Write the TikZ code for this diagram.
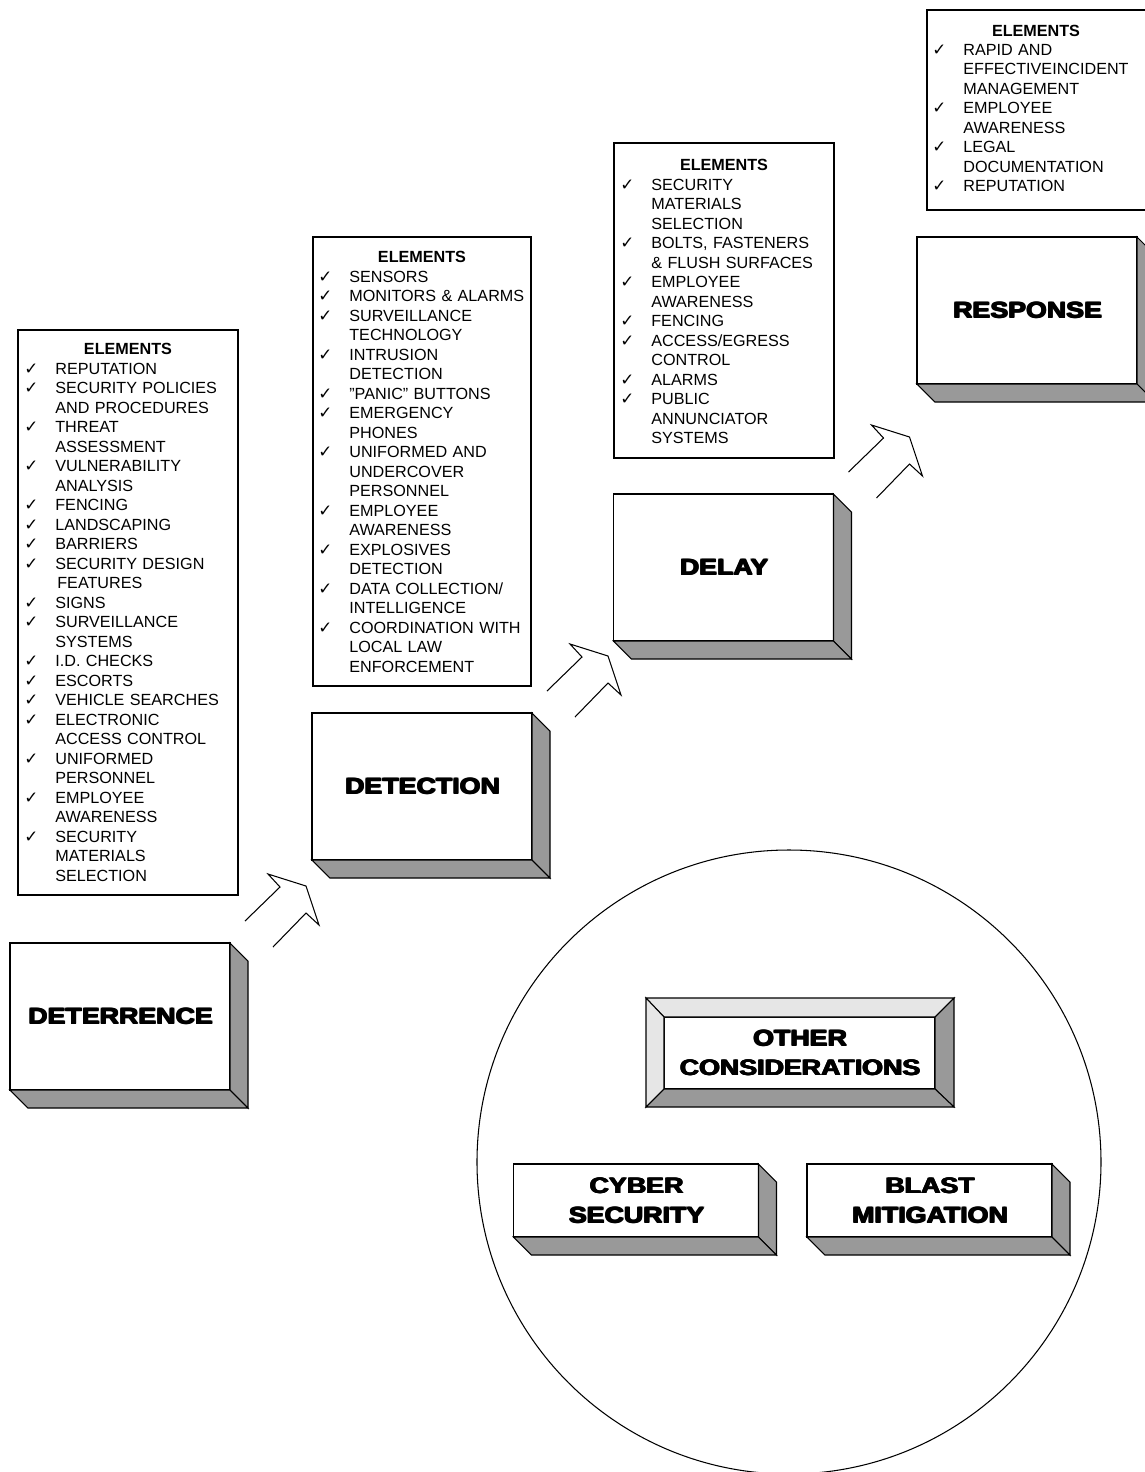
\documentclass[tikz,border=0pt]{standalone}
\usepackage{fontspec}
\setmainfont{Liberation Sans}
\newfontfamily\heavyfont{Liberation Sans Bold}[FakeStretch=1.2]
\newfontfamily\checkfont{DejaVu Sans}
\usetikzlibrary{positioning}

\definecolor{slabgray}{HTML}{999999}
\definecolor{bevelgray}{HTML}{E6E6E6}

% one pixel of the page
\newdimen\px \px=0.02cm

\newcommand{\chk}{\leavevmode\llap{\checkfont\fontsize{9.5}{10}\selectfont ✓\hspace{17\px}}}
% thicker letters for the block titles
\newcommand{\heavy}[1]{\rlap{\hspace{0.7pt}#1}\rlap{\raisebox{0.5pt}{#1}}\rlap{\hspace{0.7pt}\raisebox{0.5pt}{#1}}#1}

% side and bottom faces of a block
\newcommand{\slab}[1]{%
  \draw[slab] (#1.north east) -- ++(18,18) -- ([shift={(18,18)}]#1.south east) -- (#1.south east) -- cycle;
  \draw[slab] (#1.south west) -- ++(18,18) -- ([shift={(18,18)}]#1.south east) -- (#1.south east) -- cycle;}

\tikzset{
  face/.style={draw, fill=white, line width=0.6pt, inner sep=0pt, outer sep=0pt,
    align=center, font=\heavyfont\fontsize{12.7}{16.8}\selectfont},
  stage/.style={face, minimum width=220\px, minimum height=147\px},
  flat/.style={face, minimum width=245\px, minimum height=73\px},
  slab/.style={fill=slabgray, draw, line width=0.6pt},
  frame/.style={draw, line width=0.6pt},
  head/.style={anchor=base, inner sep=0pt, font=\bfseries\fontsize{9.2}{11.1}\selectfont},
  items/.style={anchor=base west, inner sep=0pt, text width=200\px, align=left,
    font=\fontsize{9.2}{11.1}\selectfont},
  chev/.pic={\draw[line width=0.6pt] (0,0) -- (35,-34) -- (23,-47) -- (61,-35) -- (74,4) -- (61,-8) -- (28,26);}
}

\begin{document}
\begin{tikzpicture}[x=1\px,y=-1\px]
\useasboundingbox (0,0) rectangle (1145,1472);
\clip (0,0) rectangle (1145,1472);

% the four stages
\node[stage] (deter) at (120,1016.5) {\heavy{DETERRENCE}};
\node[stage] (detect) at (422,786.5) {\heavy{DETECTION}};
\node[stage] (delay) at (723.5,567.5) {\heavy{DELAY}};
\node[stage] (resp) at (1027,310.5) {\heavy{RESPONSE}};
\slab{deter}
\slab{detect}
\slab{delay}
\slab{resp}

\pic at ([shift={(15,-22)}]deter.north east) {chev};
\pic at ([shift={(15,-22)}]detect.north east) {chev};
\pic at ([shift={(15,-22)}]delay.north east) {chev};

% element lists
\draw[frame] (18,330) rectangle (238,895);
\node[head] (deterHead) at (128,354) {ELEMENTS};
\node[items] (deterItems) at (55,374) {%
\chk REPUTATION\\
\chk SECURITY POLICIES\\
AND PROCEDURES\\
\chk THREAT\\
ASSESSMENT\\
\chk VULNERABILITY\\
ANALYSIS\\
\chk FENCING\\
\chk LANDSCAPING\\
\chk BARRIERS\\
\chk SECURITY DESIGN\\
\hspace*{2\px}FEATURES\\
\chk SIGNS\\
\chk SURVEILLANCE\\
SYSTEMS\\
\chk I.D. CHECKS\\
\chk ESCORTS\\
\chk VEHICLE SEARCHES\\
\chk ELECTRONIC\\
ACCESS CONTROL\\
\chk UNIFORMED\\
PERSONNEL\\
\chk EMPLOYEE\\
AWARENESS\\
\chk SECURITY\\
MATERIALS\\
SELECTION};

\draw[frame] (313,237) rectangle (531,686);
\node[head] (detectHead) at (422,262) {ELEMENTS};
\node[items] (detectItems) at (349,282) {%
\chk SENSORS\\
\chk MONITORS \& ALARMS\\
\chk SURVEILLANCE\\
TECHNOLOGY\\
\chk INTRUSION\\
DETECTION\\
\chk "PANIC" BUTTONS\\
\chk EMERGENCY\\
PHONES\\
\chk UNIFORMED AND\\
UNDERCOVER\\
PERSONNEL\\
\chk EMPLOYEE\\
AWARENESS\\
\chk EXPLOSIVES\\
DETECTION\\
\chk DATA COLLECTION/\\
INTELLIGENCE\\
\chk COORDINATION WITH\\
LOCAL LAW\\
ENFORCEMENT};

\draw[frame] (614,143) rectangle (834,458);
\node[head] (delayHead) at (724,170) {ELEMENTS};
\node[items] (delayItems) at (651,190) {%
\chk SECURITY\\
MATERIALS\\
SELECTION\\
\chk BOLTS, FASTENERS\\
\& FLUSH SURFACES\\
\chk EMPLOYEE\\
AWARENESS\\
\chk FENCING\\
\chk ACCESS/EGRESS\\
CONTROL\\
\chk ALARMS\\
\chk PUBLIC\\
ANNUNCIATOR\\
SYSTEMS};

\draw[frame] (927,10) rectangle (1147,210);
\node[head] (respHead) at (1036,36) {ELEMENTS};
\node[items] (respItems) at (963,55) {%
\chk RAPID AND\\
EFFECTIVEINCIDENT\\
MANAGEMENT\\
\chk EMPLOYEE\\
AWARENESS\\
\chk LEGAL\\
DOCUMENTATION\\
\chk REPUTATION};

% other considerations
\draw[line width=0.6pt] (789,1162) circle[radius=312\px];

\node[face, minimum width=271\px, minimum height=72\px] (other) at (799.5,1053) {\heavy{OTHER}\\\heavy{CONSIDERATIONS}};
\draw[slab, fill=bevelgray] (other.north west) -- ++(-18,-19) -- ([shift={(19,-19)}]other.north east) -- (other.north east) -- cycle;
\draw[slab, fill=bevelgray] (other.north west) -- ++(-18,-19) -- ([shift={(-18,18)}]other.south west) -- (other.south west) -- cycle;
\draw[slab] (other.north east) -- ++(19,-19) -- ([shift={(19,18)}]other.south east) -- (other.south east) -- cycle;
\draw[slab] (other.south west) -- ++(-18,18) -- ([shift={(19,18)}]other.south east) -- (other.south east) -- cycle;

\node[flat] (cyber) at (636,1200.5) {\heavy{CYBER}\\\heavy{SECURITY}};
\node[flat] (blast) at (929.5,1200.5) {\heavy{BLAST}\\\heavy{MITIGATION}};
\slab{cyber}
\slab{blast}
\end{tikzpicture}
\end{document}
